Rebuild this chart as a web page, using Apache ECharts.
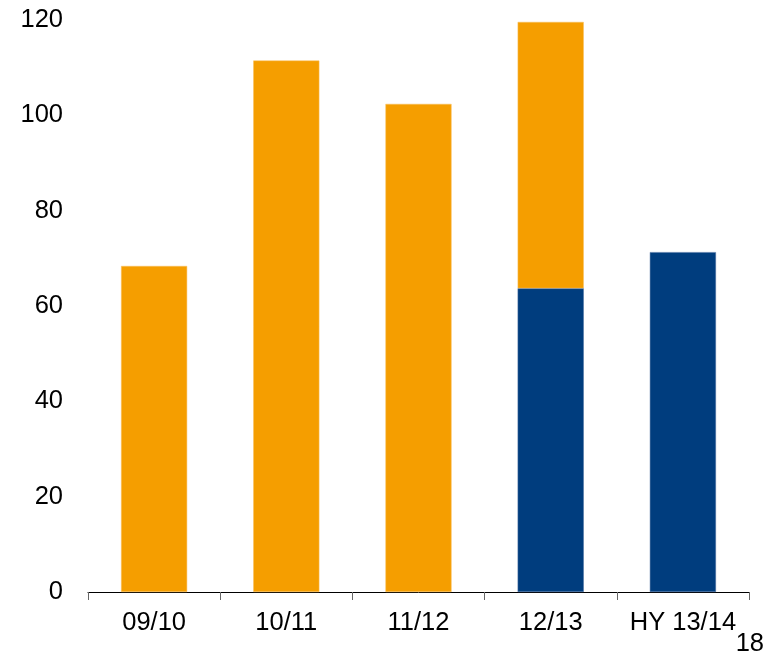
<!DOCTYPE html>
<html>
<head>
<meta charset="utf-8">
<script src="https://cdn.jsdelivr.net/npm/echarts@6/dist/echarts.min.js"></script>
<style>html,body{margin:0;padding:0;background:#fff}#c{width:769px;height:657px}</style>
</head>
<body>
<div id="c"></div>
<script>
const categories = ['09/10', '10/11', '11/12', '12/13', 'HY 13/14'];
const blueValues = [null, null, null, 63.7, 71.3];
const orangeValues = [68.4, 111.5, 102.4, 55.9, null];
const yTicks = [0, 20, 40, 60, 80, 100, 120];
const pageNumber = '18';

const FONT = 'Liberation Sans, Arial, sans-serif';
const chart = echarts.init(document.getElementById('c'), null, {renderer: 'canvas'});
chart.setOption({
  animation: false,
  backgroundColor: '#fff',
  grid: {left: 88, right: 20, top: 20, bottom: 65, containLabel: false},
  xAxis: {
    type: 'category',
    data: categories,
    axisLine: {lineStyle: {color: '#000', width: 1}},
    axisTick: {show: true, interval: 0, length: 8, lineStyle: {color: '#666'}},
    axisLabel: {interval: 0, hideOverlap: false, color: '#000', fontSize: 25.5, fontFamily: FONT, margin: 18}
  },
  yAxis: {
    type: 'value',
    min: yTicks[0],
    max: yTicks[yTicks.length - 1],
    interval: 20,
    axisLine: {show: false},
    axisTick: {show: false},
    splitLine: {show: false},
    axisLabel: {color: '#000', fontSize: 25.5, fontFamily: FONT, margin: 25}
  },
  series: [
    {
      type: 'bar', stack: 's', data: blueValues, barWidth: '50%',
      itemStyle: {color: '#003D7E', borderColor: '#4A6FA0', borderWidth: 0.5}
    },
    {
      type: 'bar', stack: 's', data: orangeValues, barWidth: '50%',
      itemStyle: {color: '#F59E00', borderColor: '#F8C060', borderWidth: 0.5}
    }
  ],
  graphic: [{
    type: 'text', right: 5, top: 631,
    style: {text: pageNumber, fill: '#000', font: '25.5px ' + FONT}
  }]
});
</script>
</body>
</html>
